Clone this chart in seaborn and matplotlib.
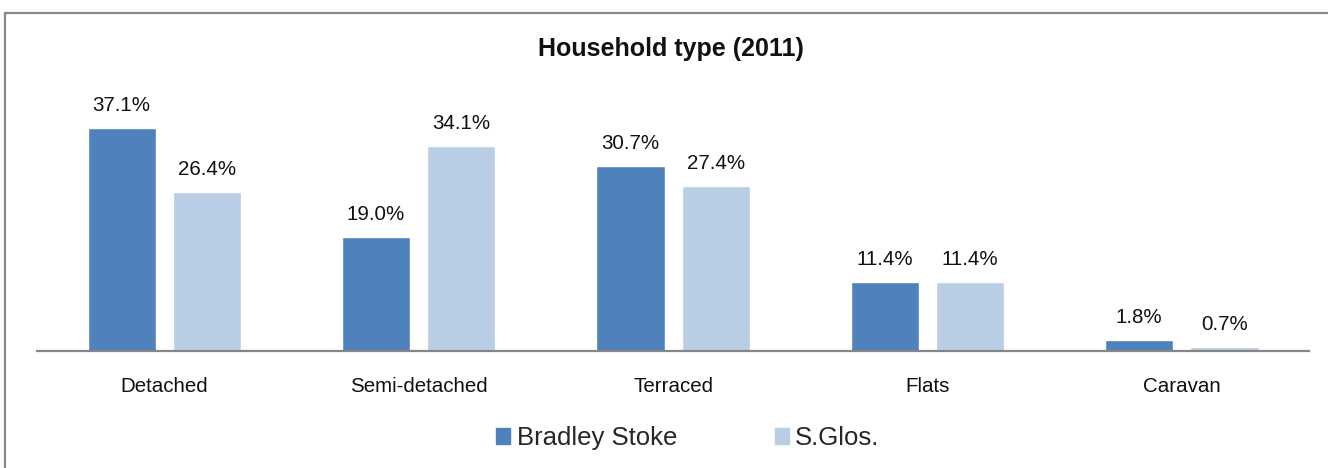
import pandas as pd
import seaborn as sns
import matplotlib.pyplot as plt
from matplotlib.patches import Rectangle

categories = ["Detached", "Semi-detached", "Terraced", "Flats", "Caravan"]
bradley_stoke = [37.1, 19.0, 30.7, 11.4, 1.8]
s_glos = [26.4, 34.1, 27.4, 11.4, 0.7]
series_names = ["Bradley Stoke", "S.Glos."]
colors = ["#4F81BD", "#B9CDE5"]

df = pd.DataFrame({
    "Type": categories * 2,
    "Area": [series_names[0]] * len(categories) + [series_names[1]] * len(categories),
    "Share": bradley_stoke + s_glos,
})

sns.set_theme(style="white")
plt.rcParams["font.family"] = ["Liberation Sans", "DejaVu Sans"]

fig = plt.figure(figsize=(13.28, 4.68), dpi=100)
ax = fig.add_axes([0.0279, 0.25, 0.9578, 0.5137])

sns.barplot(data=df, x="Type", y="Share", hue="Area", order=categories,
            hue_order=series_names, palette=colors, width=0.67, gap=0.2,
            saturation=1, ax=ax, legend=False)

ax.set_ylim(0, 40)
ax.set_xlim(-0.5, len(categories) - 0.5)
for c in ax.containers:
    ax.bar_label(c, fmt="%.1f%%", padding=9.5, fontsize=14.8, color="#111111")

for s in ["top", "right", "left"]:
    ax.spines[s].set_visible(False)
ax.spines["bottom"].set_color("#868686")
ax.spines["bottom"].set_linewidth(1.6)
ax.set_yticks([])
ax.set_xlabel("")
ax.set_ylabel("")
ax.tick_params(axis="x", length=0, pad=19, labelsize=14.8, labelcolor="#111111")

fig.text(0.505, 0.895, "Household type (2011)", ha="center", va="center",
         fontsize=18, fontweight="bold", color="#111111")

handles = [Rectangle((0, 0), 1, 1, color=c) for c in colors]
fig.legend(handles, series_names, loc="center", bbox_to_anchor=(0.518, 0.064),
           ncol=2, frameon=False, fontsize=18.5, handlelength=0.55,
           handleheight=0.55, handletextpad=0.25, columnspacing=3.8)

# outer chart border, cut off at the right and bottom like the source image
fig.patches.append(Rectangle((5 / 1328, -0.1), 1.2, (468 - 13) / 468 + 0.1,
                             transform=fig.transFigure, fill=False,
                             edgecolor="#898989", linewidth=1.6))

fig.savefig("out.png", dpi=100)
